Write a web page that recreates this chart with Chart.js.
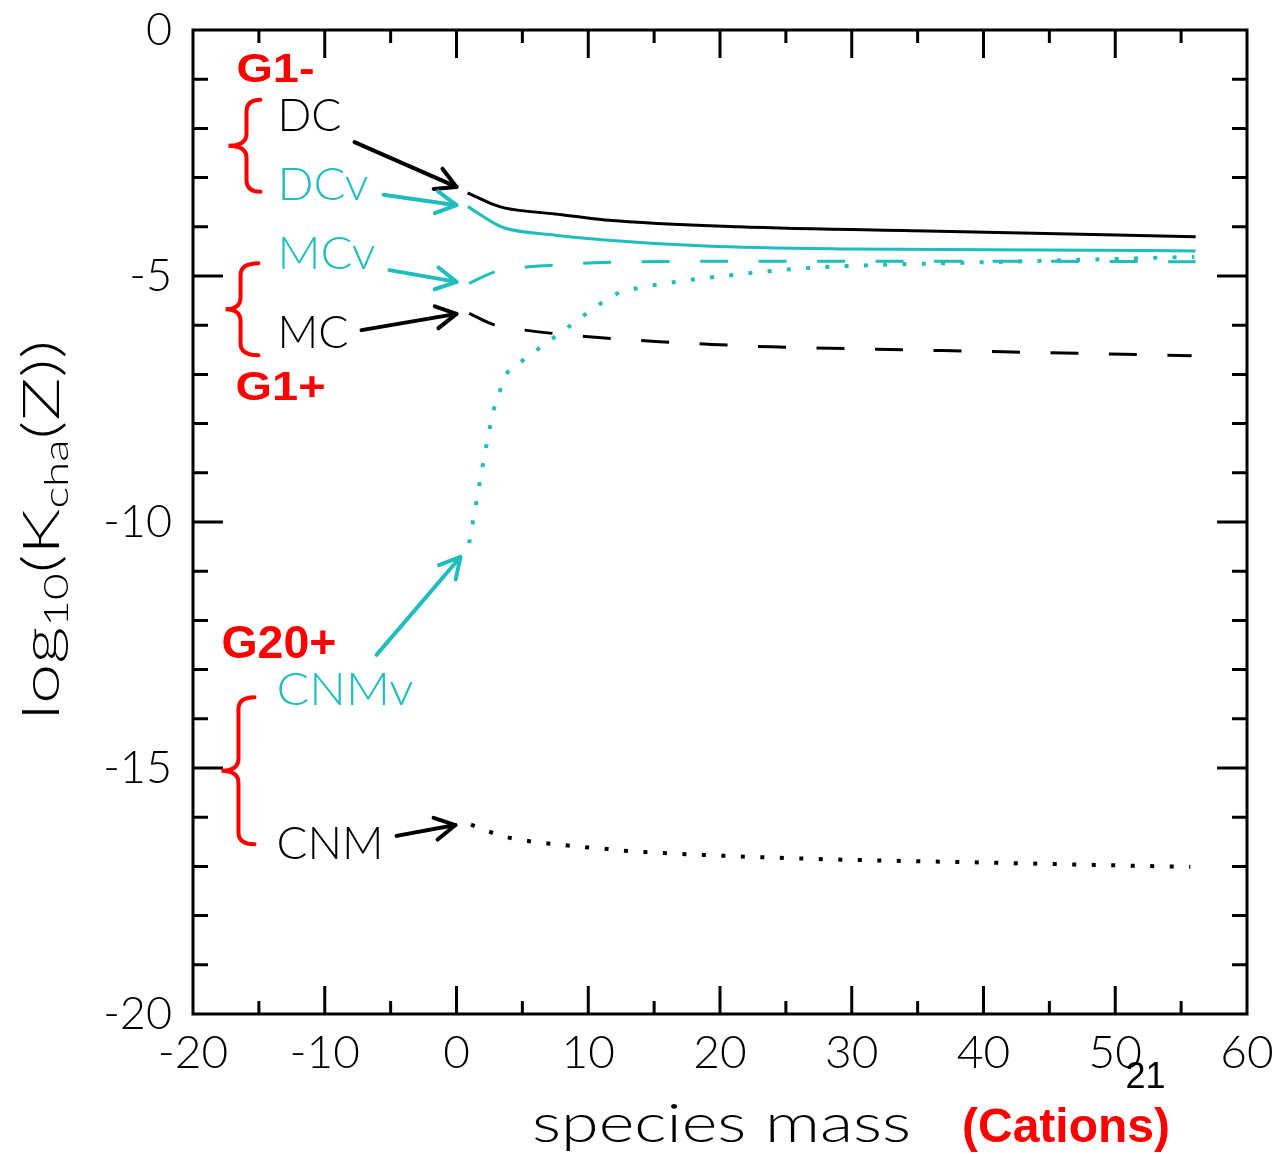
<!DOCTYPE html>
<html>
<head>
<meta charset="utf-8">
<script src="https://cdn.jsdelivr.net/npm/chart.js@4.4.1/dist/chart.umd.min.js"></script>
<style>
  html, body { margin: 0; padding: 0; background: #ffffff; }
  canvas { display: block; }
</style>
</head>
<body>
<canvas id="chart" width="1280" height="1154"></canvas>
<script>
// log10 of the charge-exchange rate against species mass, one curve per ISM phase
const massDC  = [0.84, 2.94, 3.70, 7.49, 11.29, 21.41, 36.6, 56.1];
const logDC   = [-3.31, -3.56, -3.62, -3.74, -3.86, -4.00, -4.09, -4.20];

const massDCv = [0.86, 2.94, 3.70, 7.49, 11.29, 18.88, 29.0, 36.6, 56.1];
const logDCv  = [-3.59, -3.94, -4.03, -4.17, -4.27, -4.39, -4.45, -4.46, -4.49];

const massMCv = [0.96, 2.98, 5.2, 7.4, 9.6, 11.8, 14.1, 25.0, 40.0, 56.1];
const logMCv  = [-5.15, -4.91, -4.82, -4.78, -4.74, -4.72, -4.71, -4.70, -4.70, -4.71];

const massMC  = [0.96, 2.94, 5.2, 9.8, 15.1, 19.4, 23.9, 34.1, 55.8];
const logMC   = [-5.76, -6.00, -6.10, -6.23, -6.33, -6.39, -6.44, -6.50, -6.62];

const massCNMv = [0.96, 2.83, 3.29, 3.85, 5.01, 8.58, 10.99, 12.25, 13.69, 16.6, 20.98, 25.46, 31.41, 38.7, 56.0];
const logCNMv  = [-10.43, -7.71, -7.34, -6.97, -6.72, -6.02, -5.55, -5.35, -5.25, -5.12, -4.98, -4.86, -4.78, -4.73, -4.61];

const massCNM = [1.1, 2.43, 3.9, 5.34, 6.81, 8.25, 9.77, 11.24, 12.68, 19.0, 26.1, 30.5, 37.9, 46.7, 55.7];
const logCNM  = [-16.15, -16.29, -16.41, -16.48, -16.53, -16.57, -16.61, -16.64, -16.68, -16.77, -16.84, -16.87, -16.91, -16.96, -17.01];

const xTickStep = 10;
const yTickStep = 5;

const BLACK = '#000000';
const CYAN  = '#1fbdbd';
const RED   = '#ff0000';
const THIN_FONT = '"Lato Light", Lato, "Noto Sans", sans-serif';
const BOLD_FONT = '"Liberation Sans", Arial, sans-serif';

const pts = (xs, ys) => xs.map((x, i) => ({ x, y: ys[i] }));

// labels, arrows and braces, placed in axis units
const notes = [
  { text: 'G1-',  x: -16.70, y: -1.06,  color: RED,   bold: true, size: 41, w: 78 },
  { text: 'DC',   x: -13.59, y: -2.05,  color: BLACK, size: 46, w: 64 },
  { text: 'DCv',  x: -13.59, y: -3.46,  color: CYAN,  size: 46, w: 91 },
  { text: 'MCv',  x: -13.59, y: -4.86,  color: CYAN,  size: 46, w: 98 },
  { text: 'MC',   x: -13.59, y: -6.46,  color: BLACK, size: 46, w: 71 },
  { text: 'G1+',  x: -16.77, y: -7.52,  color: RED,   bold: true, size: 41, w: 90 },
  { text: 'G20+', x: -17.84, y: -12.76, color: RED,   bold: true, size: 46, w: 115 },
  { text: 'CNMv', x: -13.66, y: -13.72, color: CYAN,  size: 46, w: 137 },
  { text: 'CNM',  x: -13.66, y: -16.85, color: BLACK, size: 46, w: 107 }
];
const arrows = [
  { from: [-7.74, -2.28],  to: [0.00, -3.19],   color: BLACK },
  { from: [-5.54, -3.35],  to: [0.00, -3.56],   color: CYAN },
  { from: [-5.09, -4.88],  to: [0.00, -5.12],   color: CYAN },
  { from: [-7.21, -6.10],  to: [0.00, -5.77],   color: BLACK },
  { from: [-6.07, -12.70], to: [0.30, -10.71],  color: CYAN },
  { from: [-4.55, -16.38], to: [-0.08, -16.16], color: BLACK }
];
// end-curl x, spine x, tip x, top y, bottom y
const braces = [
  [-14.88, -15.94, -17.31, -1.42, -3.29],
  [-15.03, -16.39, -17.53, -4.74, -6.61],
  [-15.33, -16.55, -17.84, -13.56, -16.55]
];

// text stretched horizontally to a given ink width
function drawText(ctx, str, x, y, font, color, width) {
  ctx.save();
  ctx.font = font;
  ctx.fillStyle = color;
  ctx.textAlign = 'left';
  ctx.textBaseline = 'alphabetic';
  const w0 = ctx.measureText(str).width;
  ctx.translate(x, y);
  if (width) ctx.scale(width / w0, 1);
  ctx.fillText(str, 0, 0);
  ctx.restore();
}

function drawArrow(ctx, x0, y0, x1, y1, color) {
  ctx.save();
  ctx.strokeStyle = color;
  ctx.lineWidth = 4;
  ctx.lineCap = 'round';
  ctx.lineJoin = 'round';
  ctx.beginPath();
  ctx.moveTo(x0, y0);
  ctx.lineTo(x1, y1);
  ctx.stroke();
  const a = Math.atan2(y1 - y0, x1 - x0), L = 23, sp = 0.5;
  ctx.beginPath();
  ctx.moveTo(x1 - L * Math.cos(a - sp), y1 - L * Math.sin(a - sp));
  ctx.lineTo(x1, y1);
  ctx.lineTo(x1 - L * Math.cos(a + sp), y1 - L * Math.sin(a + sp));
  ctx.stroke();
  ctx.restore();
}

function drawBrace(ctx, xe, xv, xt, y0, y1) {
  const ym = (y0 + y1) / 2, r = 12;
  ctx.save();
  ctx.strokeStyle = RED;
  ctx.lineWidth = 4;
  ctx.lineCap = 'round';
  ctx.beginPath();
  ctx.moveTo(xe, y0);
  ctx.quadraticCurveTo(xv, y0, xv, y0 + r);
  ctx.lineTo(xv, ym - r);
  ctx.quadraticCurveTo(xv, ym, xt, ym);
  ctx.quadraticCurveTo(xv, ym, xv, ym + r);
  ctx.lineTo(xv, y1 - r);
  ctx.quadraticCurveTo(xv, y1, xe, y1);
  ctx.stroke();
  ctx.restore();
}

// boxed frame with inward ticks on all four sides
const framePlugin = {
  id: 'frame',
  afterDatasetsDraw(chart) {
    const { ctx, chartArea: a, scales: { x, y } } = chart;
    ctx.save();
    ctx.strokeStyle = BLACK;
    ctx.lineWidth = 3;
    ctx.lineCap = 'butt';
    ctx.beginPath();
    for (let v = x.min + 5; v < x.max; v += 5) {
      const p = x.getPixelForValue(v);
      const len = (v % 10 === 0) ? 28 : 13;
      ctx.moveTo(p, a.bottom); ctx.lineTo(p, a.bottom - len);
      ctx.moveTo(p, a.top);    ctx.lineTo(p, a.top + len);
    }
    for (let v = y.min + 1; v < y.max; v += 1) {
      const p = y.getPixelForValue(v);
      const len = (v % 5 === 0) ? 30 : 15;
      ctx.moveTo(a.left, p);  ctx.lineTo(a.left + len, p);
      ctx.moveTo(a.right, p); ctx.lineTo(a.right - len, p);
    }
    ctx.stroke();
    ctx.strokeRect(a.left, a.top, a.right - a.left, a.bottom - a.top);
    ctx.restore();
  }
};

// axis titles, phase labels, arrows and braces
const notesPlugin = {
  id: 'notes',
  afterDraw(chart) {
    const { ctx, chartArea: a, scales: { x, y } } = chart;
    const X = v => x.getPixelForValue(v);
    const Y = v => y.getPixelForValue(v);

    braces.forEach(b => drawBrace(ctx, X(b[0]), X(b[1]), X(b[2]), Y(b[3]), Y(b[4])));
    arrows.forEach(r => drawArrow(ctx, X(r.from[0]), Y(r.from[1]), X(r.to[0]), Y(r.to[1]), r.color));
    notes.forEach(n => {
      const font = n.bold ? `bold ${n.size}px ${BOLD_FONT}` : `300 ${n.size}px ${THIN_FONT}`;
      drawText(ctx, n.text, X(n.x), Y(n.y), font, n.color, n.w);
    });

    // x-axis title
    const cx = (a.left + a.right) / 2;
    drawText(ctx, 'species mass', cx - 188, a.bottom + 128, `300 54px ${THIN_FONT}`, BLACK, 379);
    drawText(ctx, '(Cations)', cx + 242, a.bottom + 128, `bold 48px ${BOLD_FONT}`, RED, 208);
    drawText(ctx, '21', X(50.78), a.bottom + 74, `36px ${BOLD_FONT}`, BLACK, 0);

    // y-axis title with subscripts, rotated
    const parts = [
      { t: 'log',  s: 52, dy: 0 },
      { t: '10',   s: 33, dy: 9 },
      { t: '(',    s: 52, dy: 0 },
      { t: 'K',    s: 52, dy: 0 },
      { t: 'cha',  s: 33, dy: 9 },
      { t: '(Z))', s: 52, dy: 0 }
    ];
    ctx.save();
    ctx.fillStyle = BLACK;
    ctx.textBaseline = 'alphabetic';
    let total = 0;
    parts.forEach(p => {
      ctx.font = `300 ${p.s}px ${THIN_FONT}`;
      p.w = ctx.measureText(p.t).width;
      total += p.w;
    });
    const span = 380;
    ctx.translate(59, 720);
    ctx.rotate(-Math.PI / 2);
    ctx.scale(span / total, 1);
    let cur = 0;
    parts.forEach(p => {
      ctx.font = `300 ${p.s}px ${THIN_FONT}`;
      ctx.fillText(p.t, cur, p.dy);
      cur += p.w;
    });
    ctx.restore();
  }
};

const lineStyle = (color, dash, width) => ({
  borderColor: color,
  borderWidth: width,
  borderDash: dash,
  borderCapStyle: 'butt',
  pointRadius: 0,
  showLine: true,
  fill: false,
  cubicInterpolationMode: 'monotone'
});

new Chart(document.getElementById('chart'), {
  type: 'scatter',
  data: {
    datasets: [
      { label: 'DC',   data: pts(massDC, logDC),     ...lineStyle(BLACK, [], 3) },
      { label: 'DCv',  data: pts(massDCv, logDCv),   ...lineStyle(CYAN, [], 3) },
      { label: 'MCv',  data: pts(massMCv, logMCv),   ...lineStyle(CYAN, [28, 30.5], 3) },
      { label: 'MC',   data: pts(massMC, logMC),     ...lineStyle(BLACK, [28, 30.5], 3) },
      { label: 'CNMv', data: pts(massCNMv, logCNMv), ...lineStyle(CYAN, [4, 15.3], 4) },
      { label: 'CNM',  data: pts(massCNM, logCNM),   ...lineStyle(BLACK, [4, 15.5], 4) }
    ]
  },
  options: {
    responsive: false,
    animation: false,
    events: [],
    layout: { padding: { top: 30, right: 33, left: 0, bottom: 0 } },
    plugins: { legend: { display: false }, tooltip: { enabled: false } },
    scales: {
      x: {
        type: 'linear',
        min: -20, max: 60,
        grid: { display: false },
        border: { display: false },
        ticks: {
          stepSize: xTickStep,
          autoSkip: false,
          maxRotation: 0,
          padding: 4,
          color: BLACK,
          font: { family: THIN_FONT, size: 46, weight: '300' }
        },
        afterFit(s) { s.height = 140; s.paddingLeft = 0; s.paddingRight = 0; }
      },
      y: {
        type: 'linear',
        min: -20, max: 0,
        grid: { display: false },
        border: { display: false },
        ticks: {
          stepSize: yTickStep,
          autoSkip: false,
          padding: 13,
          color: BLACK,
          font: { family: THIN_FONT, size: 45, weight: '300' }
        },
        afterFit(s) { s.width = 193; s.paddingTop = 0; s.paddingBottom = 0; }
      }
    }
  },
  plugins: [framePlugin, notesPlugin]
});
</script>
</body>
</html>
